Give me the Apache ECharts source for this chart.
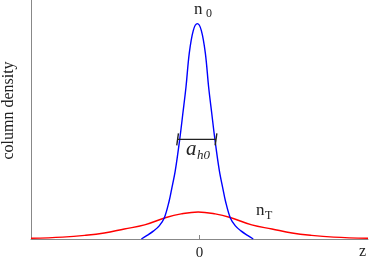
<!DOCTYPE html>
<html>
<head>
<meta charset="utf-8">
<script src="https://cdn.jsdelivr.net/npm/echarts@6/dist/echarts.min.js"></script>
<style>
  html, body { margin: 0; padding: 0; background: #fff; }
  #chart { width: 374px; height: 260px; }
</style>
</head>
<body>
<div id="chart"></div>
<script>
// narrow profile n_0 (blue)
var blueZ = [-0.345, -0.311, -0.272, -0.239, -0.209, -0.180, -0.165, -0.144, -0.117, -0.099, -0.080, -0.061, -0.037, -0.013,
             0.011, 0.035, 0.054, 0.073, 0.091, 0.118, 0.139, 0.154, 0.183, 0.213, 0.246, 0.285, 0.319];
var blueN = [0, 0.015, 0.034, 0.055, 0.088, 0.159, 0.210, 0.285, 0.419, 0.524, 0.637, 0.776, 0.872, 0.901,
             0.872, 0.776, 0.637, 0.524, 0.419, 0.285, 0.210, 0.159, 0.088, 0.055, 0.034, 0.015, 0];
// wide profile n_T (red)
var redZ = [-1, -0.812, -0.681, -0.565, -0.446, -0.326, -0.198, -0.109, -0.008,
            0.093, 0.182, 0.310, 0.430, 0.549, 0.665, 0.796, 1];
var redN = [0.003, 0.008, 0.015, 0.025, 0.042, 0.059, 0.090, 0.105, 0.113,
            0.105, 0.090, 0.059, 0.042, 0.025, 0.015, 0.008, 0.003];
// width marker a_h0
var barZ = [-0.130, 0.098];
var barN = 0.417;
var xTicks = [0];

function zip(xs, ys) {
  var out = [];
  for (var i = 0; i < xs.length; i++) out.push([xs[i], ys[i]]);
  return out;
}

var serif = '"Liberation Serif", "DejaVu Serif", serif';
var myChart = echarts.init(document.getElementById('chart'));
var option = {
  animation: false,
  grid: { left: 31, right: 6, top: 0, bottom: 21, outerBoundsMode: 'none', containLabel: false },
  xAxis: {
    type: 'value',
    min: -1,
    max: 1,
    splitLine: { show: false },
    axisLine: { lineStyle: { color: '#888', width: 1 } },
    axisTick: { show: true, customValues: xTicks, inside: true, length: 4, lineStyle: { color: '#888' } },
    axisLabel: { customValues: xTicks, color: '#222', fontFamily: serif, fontSize: 15, margin: 7 }
  },
  yAxis: {
    type: 'value',
    min: 0,
    max: 1,
    name: 'column density',
    nameLocation: 'middle',
    nameRotate: 90,
    nameGap: 14,
    nameTextStyle: { color: '#222', fontFamily: serif, fontSize: 16, padding: [0, 0, 0, 18] },
    splitLine: { show: false },
    axisTick: { show: false },
    axisLabel: { show: false },
    axisLine: { show: true, onZero: false, lineStyle: { color: '#888', width: 1 } }
  },
  series: [
    {
      type: 'line',
      data: zip(redZ, redN),
      smooth: 0.4,
      symbol: 'none',
      lineStyle: { color: '#ff0000', width: 1.4 }
    },
    {
      type: 'line',
      data: zip(blueZ, blueN),
      smooth: 0.35,
      symbol: 'none',
      lineStyle: { color: '#0000ff', width: 1.4 }
    },
    {
      type: 'line',
      data: [[barZ[0], barN], [barZ[1], barN]],
      symbol: 'none',
      lineStyle: { color: '#222', width: 1.4 }
    },
    {
      type: 'line',
      data: [[barZ[0] - 0.005, barN - 0.025], [barZ[0] + 0.005, barN + 0.025]],
      symbol: 'none',
      lineStyle: { color: '#222', width: 1.4 }
    },
    {
      type: 'line',
      data: [[barZ[1] - 0.005, barN - 0.025], [barZ[1] + 0.005, barN + 0.025]],
      symbol: 'none',
      lineStyle: { color: '#222', width: 1.4 }
    }
  ],
  graphic: [
    { type: 'text', left: 194, top: 1, style: { text: 'n', font: '17px ' + serif, fill: '#222' } },
    { type: 'text', left: 206, top: 8, style: { text: '0', font: '12px ' + serif, fill: '#222' } },
    { type: 'text', left: 256, top: 202, style: { text: 'n', font: '17px ' + serif, fill: '#222' } },
    { type: 'text', left: 265, top: 210, style: { text: 'T', font: '12px ' + serif, fill: '#222' } },
    { type: 'text', left: 186, top: 139, style: { text: 'a', font: 'italic 21px ' + serif, fill: '#222' } },
    { type: 'text', left: 197, top: 149, style: { text: 'h0', font: 'italic 13px ' + serif, fill: '#222' } },
    { type: 'text', left: 359, top: 244, style: { text: 'z', font: '16px ' + serif, fill: '#222' } }
  ]
};
myChart.setOption(option);
</script>
</body>
</html>
